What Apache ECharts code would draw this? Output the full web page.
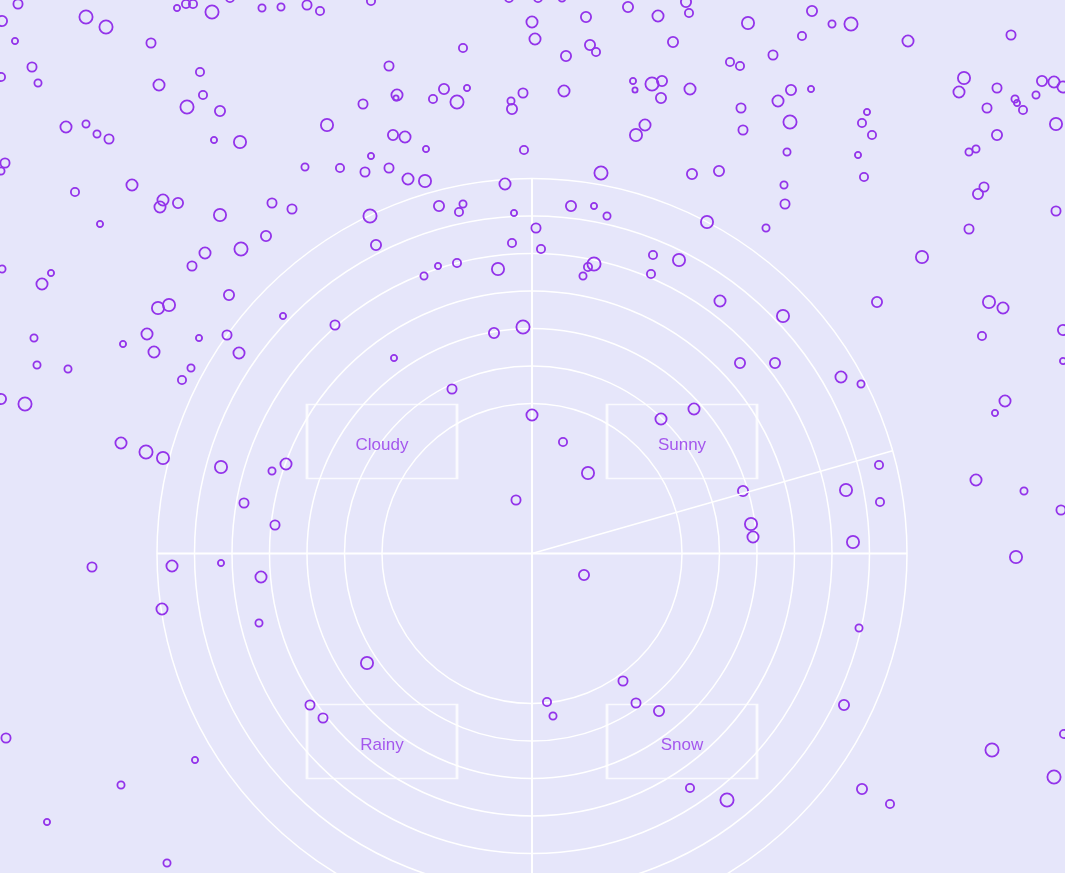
<!DOCTYPE html>
<html>
<head>
<meta charset="utf-8">
<script src="https://cdn.jsdelivr.net/npm/echarts@6/dist/echarts.min.js"></script>
<style>
html,body{margin:0;padding:0;background:#e6e6fa;}
#chart{width:1065px;height:873px;}
</style>
</head>
<body>
<div id="chart"></div>
<script>
// ---- data ----
const weatherLabels = ['Cloudy', 'Sunny', 'Rainy', 'Snow'];
const weatherBoxX = [382, 682, 382, 682];
const weatherBoxY = [441.5, 441.5, 741.5, 741.5];
const ringMax = 375;
const ringStep = 37.5;
const handAngle = 15.9;
// bubbles: [x, y, diameter]
const bubbles = [
[18,4,11],[2,21,12],[86,17,15],[106,27,15],[15,41,8],[151,43,11],[177,8,8],[186,4,10],[193,4,10],[212,12,15],
[262,8,9],[281,7,9],[307,5,11],[320,11,10],[32,67,11],[38,83,9],[1,77,10],[200,72,10],[159,85,13],[203,95,10],
[187,107,15],[220,111,12],[66,127,13],[86,124,9],[97,134,9],[109,139,11],[214,140,8],[240,142,14],[327,125,14],[5,163,11],
[1,171,9],[305,167,9],[340,168,10],[75,192,10],[132,185,13],[163,200,13],[160,207,13],[178,203,12],[220,215,14],[272,203,11],
[292,209,11],[100,224,8],[266,236,12],[205,253,13],[241,249,15],[192,266,11],[2,269,9],[51,273,8],[42,284,13],[230,-2,10],
[371,1,10],[509,-2,10],[538,-2,10],[562,-2,9],[628,7,12],[686,2,12],[689,13,10],[532,22,13],[586,17,12],[658,16,13],
[535,39,13],[463,48,10],[590,45,12],[596,52,10],[566,56,12],[673,42,12],[389,66,11],[397,95,13],[396,98,7],[363,104,11],
[444,89,12],[467,88,8],[433,99,10],[457,102,15],[523,93,11],[511,101,9],[512,109,12],[564,91,13],[633,81,8],[635,90,7],
[652,84,15],[662,81,12],[661,98,12],[690,89,13],[393,135,12],[405,137,13],[426,149,8],[524,150,10],[645,125,13],[636,135,14],
[371,156,8],[365,172,11],[389,168,11],[408,179,13],[425,181,14],[601,173,15],[692,174,12],[505,184,13],[370,216,15],[439,206,12],
[463,204,9],[459,212,10],[514,213,8],[571,206,12],[594,206,8],[607,216,9],[707,222,14],[536,228,11],[376,245,12],[512,243,10],
[541,249,10],[653,255,10],[679,260,14],[438,266,8],[457,263,10],[498,269,14],[594,264,15],[588,267,10],[583,276,9],[424,276,9],
[651,274,10],
[812,11,12],[748,23,14],[832,24,9],[851,24,15],[908,41,13],[1011,35,11],[802,36,10],[773,55,11],[730,62,10],[740,66,10],
[964,78,14],[959,92,13],[791,90,12],[811,89,8],[778,101,13],[741,108,11],[790,122,15],[743,130,11],[867,112,8],[862,123,10],
[872,135,10],[997,88,11],[1042,81,12],[1054,82,13],[1063,87,13],[1015,99,9],[1017,103,8],[1023,110,10],[1036,95,9],[987,108,11],
[1056,124,14],[997,135,12],[787,152,9],[858,155,8],[969,152,9],[976,149,9],[719,171,12],[864,177,10],[784,185,9],[785,204,11],
[984,187,11],[978,194,12],[1056,211,11],[766,228,9],[969,229,11],[922,257,14],
[229,295,12],[158,308,14],[169,305,14],[283,316,8],[335,325,11],[34,338,9],[123,344,8],[147,334,13],[154,352,13],[199,338,8],
[227,335,11],[239,353,13],[37,365,9],[68,369,9],[191,368,9],[182,380,10],[1,399,12],[25,404,15],[121,443,13],[146,452,15],
[163,458,14],[221,467,14],[272,471,9],[286,464,13],[244,503,11],[275,525,11],[92,567,11],[172,566,13],[221,563,8],[261,577,13],
[394,358,8],[494,333,12],[523,327,15],[452,389,11],[532,415,13],[563,442,10],[588,473,14],[516,500,11],[584,575,12],[661,419,13],
[694,409,13],
[720,301,13],[783,316,14],[877,302,12],[989,302,14],[1003,308,13],[982,336,10],[1063,330,12],[1063,361,8],[740,363,12],[775,363,12],
[841,377,13],[861,384,9],[1005,401,13],[995,413,8],[879,465,10],[743,491,12],[846,490,14],[880,502,10],[976,480,13],[1024,491,9],
[1061,510,11],[751,524,14],[753,537,13],[853,542,14],[1016,557,14],
[162,609,13],[259,623,9],[310,705,11],[323,718,11],[6,738,11],[195,760,8],[121,785,9],[47,822,8],[167,863,9],
[367,663,14],[547,702,10],[553,716,9],[623,681,11],[636,703,11],[659,711,12],[690,788,10],
[859,628,9],[844,705,12],[727,800,15],[862,789,12],[890,804,10],[992,750,15],[1054,777,15],[1064,734,10]
];

// ---- chart ----
const PURPLE = '#9333ea';
const chart = echarts.init(document.getElementById('chart'), null, {renderer: 'canvas'});

const tickCount = Math.round(ringMax / ringStep) + 1;
const ringColors = [];
for (let i = 0; i < tickCount; i++) {
  ringColors.push(i * ringStep < 150 ? 'transparent' : '#ffffff');
}

const boxData = weatherLabels.map((n, i) => ({name: n, value: [weatherBoxX[i], weatherBoxY[i]]}));

chart.setOption({
  backgroundColor: '#e6e6fa',
  animation: false,
  grid: {left: 0, right: 0, top: 0, bottom: 0, containLabel: false},
  xAxis: {type: 'value', min: 0, max: 1065, show: false},
  yAxis: {type: 'value', min: 0, max: 873, inverse: true, show: false},
  polar: {center: [532, 553.5], radius: ringMax},
  angleAxis: {
    type: 'value', min: 0, max: 360, interval: 90, startAngle: 0, clockwise: false,
    axisLine: {show: false}, axisTick: {show: false}, axisLabel: {show: false},
    splitLine: {show: true, lineStyle: {color: '#ffffff', width: 2}}
  },
  radiusAxis: {
    type: 'value', min: 0, max: ringMax, interval: ringStep,
    axisLine: {show: false}, axisTick: {show: false}, axisLabel: {show: false},
    splitLine: {show: true, lineStyle: {color: ringColors, width: 1.5}}
  },
  series: [
    {
      type: 'line', coordinateSystem: 'polar', silent: true, symbol: 'none',
      lineStyle: {color: '#ffffff', width: 1.5},
      data: [[0, handAngle], [ringMax, handAngle]]
    },
    {
      type: 'scatter', xAxisIndex: 0, yAxisIndex: 0, silent: true, clip: false,
      symbol: 'rect', symbolSize: [150, 74],
      itemStyle: {color: 'transparent', borderColor: '#ffffff', borderWidth: 2},
      label: {show: true, position: 'inside', formatter: '{b}', color: PURPLE,
        fontSize: 17, fontFamily: 'Liberation Sans', offset: [0, 4]},
      data: boxData
    },
    {
      type: 'scatter', xAxisIndex: 0, yAxisIndex: 0, silent: true, clip: false,
      symbol: 'circle',
      symbolSize: v => v[2] - 1.8,
      itemStyle: {color: 'transparent', borderColor: PURPLE, borderWidth: 1.8, opacity: 1},
      data: bubbles
    }
  ]
});
</script>
</body>
</html>
